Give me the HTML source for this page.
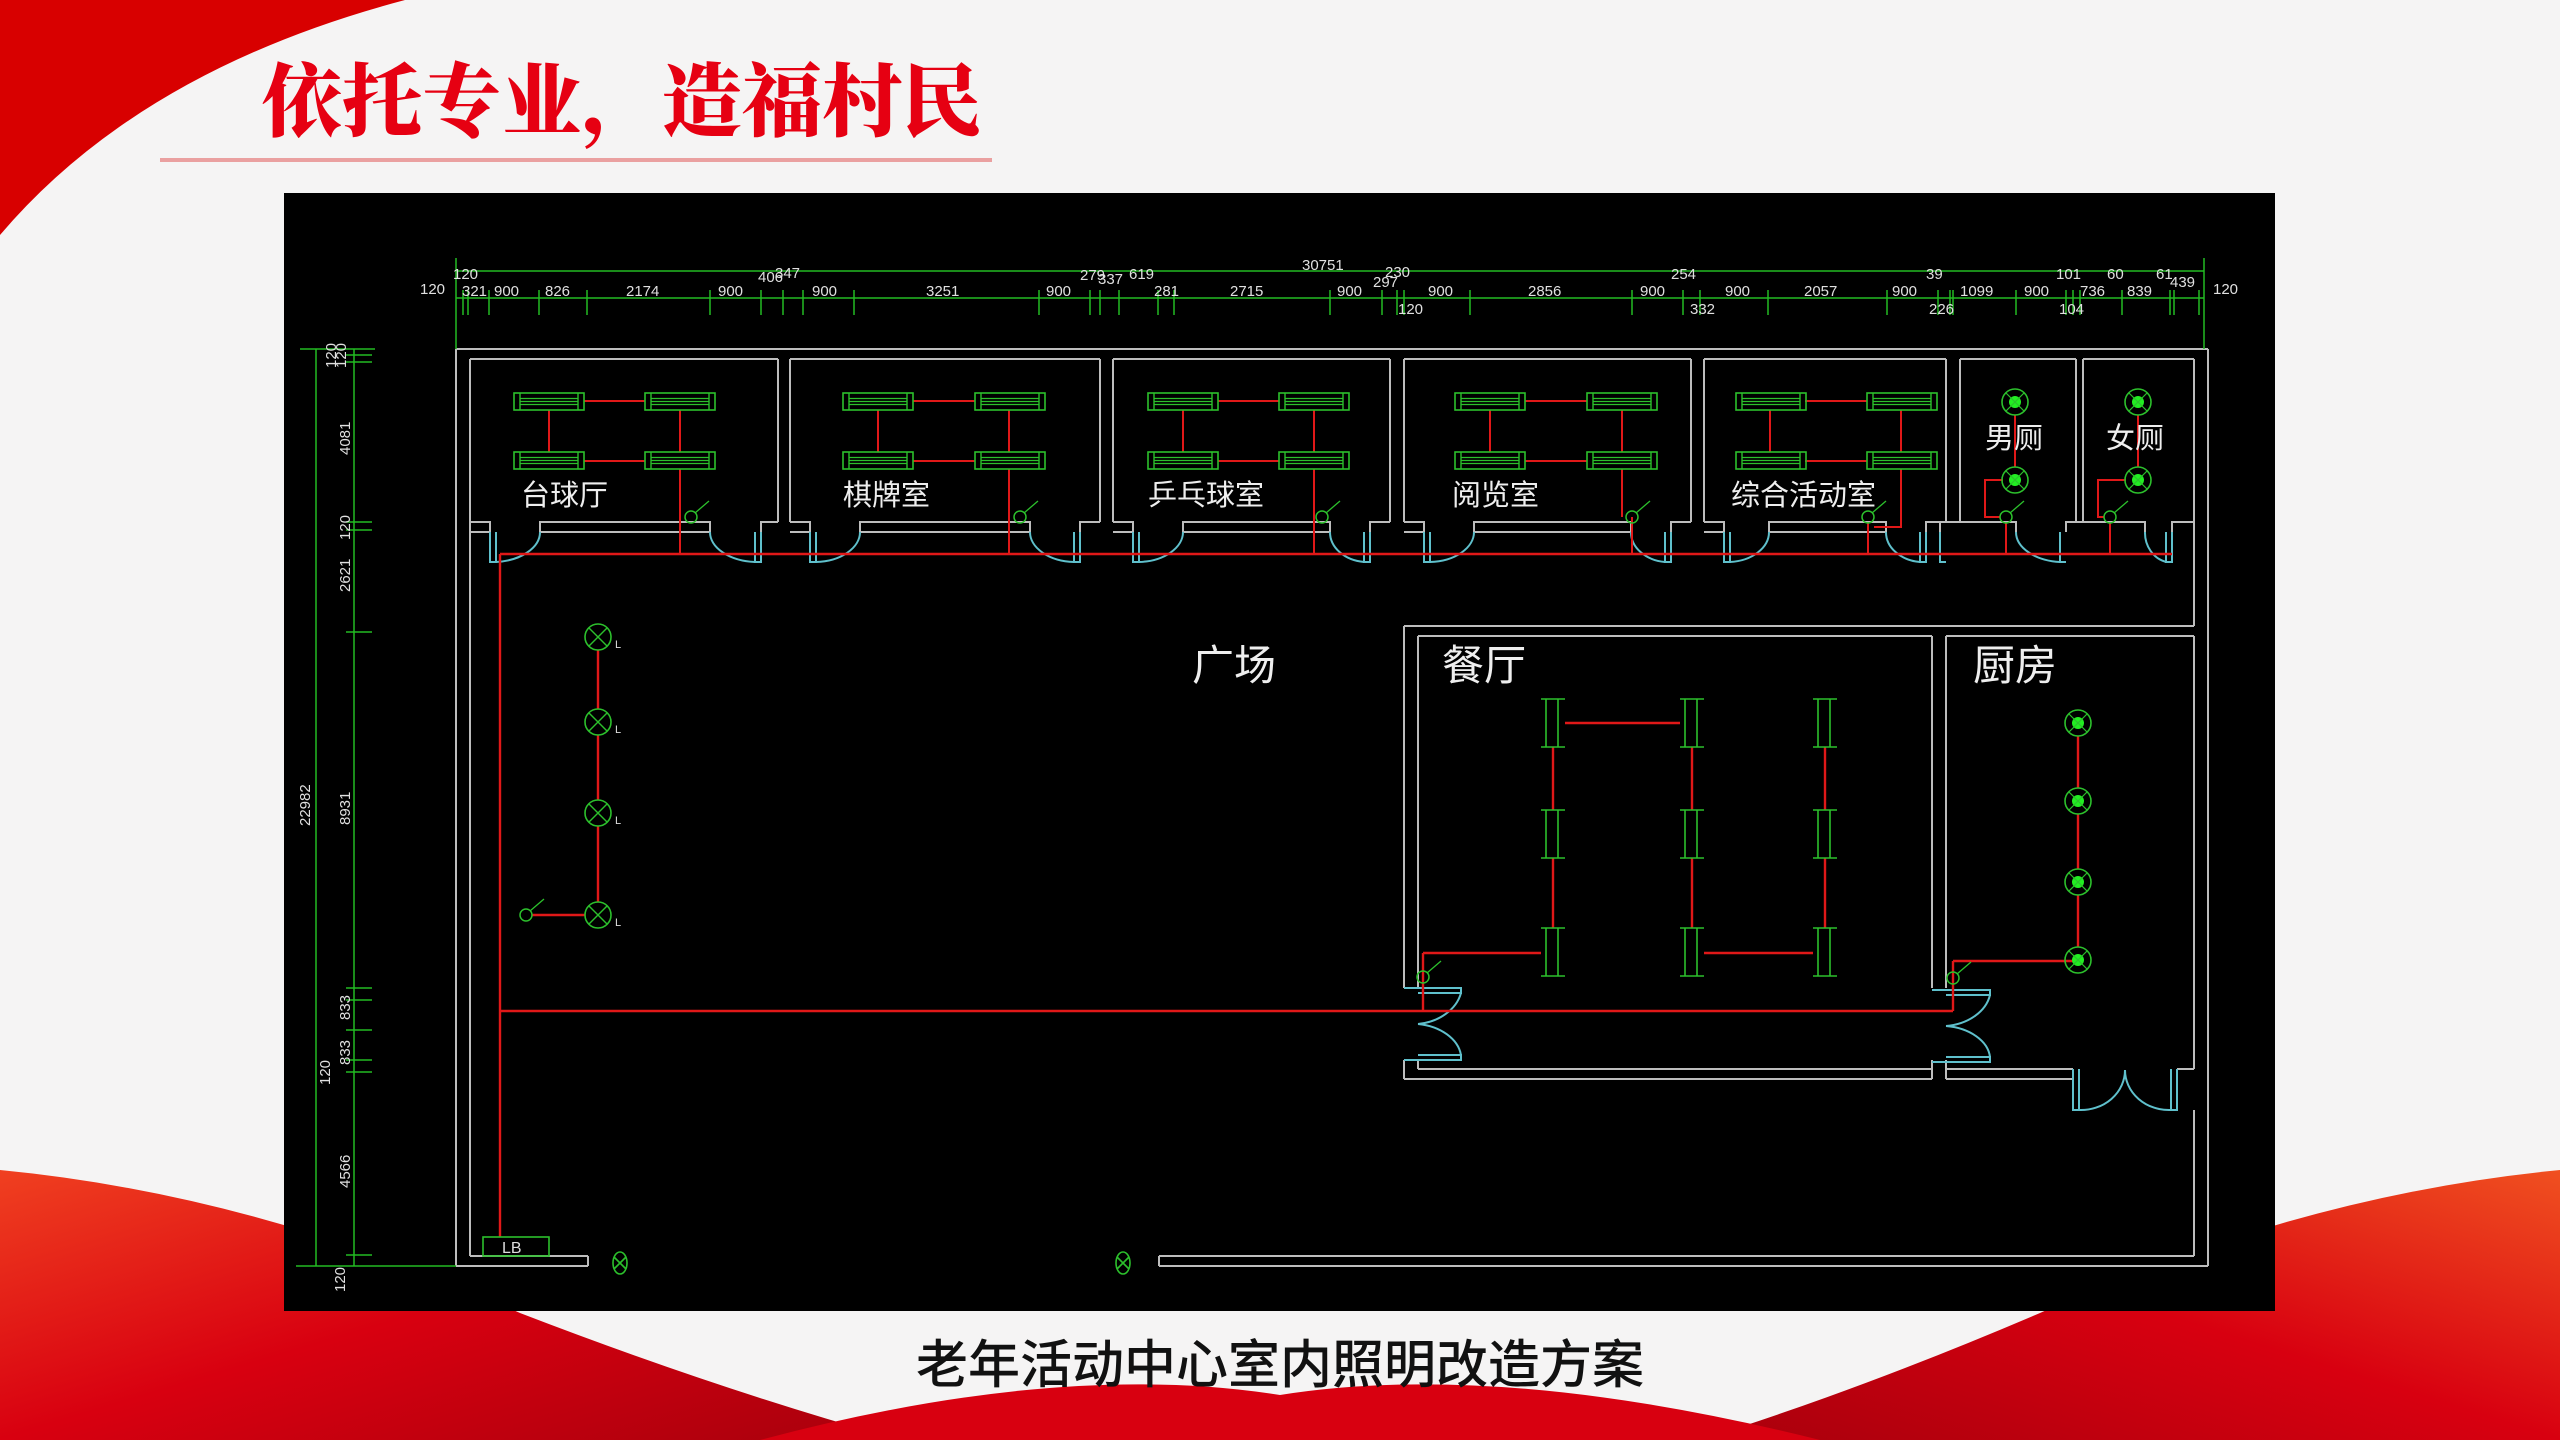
<!DOCTYPE html>
<html><head><meta charset="utf-8"><style>
html,body{margin:0;padding:0;width:2560px;height:1440px;overflow:hidden;background:#f5f4f4}
svg{display:block}
</style></head><body>
<svg width="2560" height="1440" viewBox="0 0 2560 1440" xmlns="http://www.w3.org/2000/svg">
<defs>
<linearGradient id="rl" x1="0" y1="0" x2="1" y2="1"><stop offset="0" stop-color="#f04020"/><stop offset="0.5" stop-color="#d80010"/><stop offset="1" stop-color="#a8000c"/></linearGradient>
<linearGradient id="rr" x1="1" y1="0" x2="0" y2="1"><stop offset="0" stop-color="#f05020"/><stop offset="0.5" stop-color="#d80010"/><stop offset="1" stop-color="#a8000c"/></linearGradient>
<g id="fx"><rect x="0" y="0" width="70" height="17" fill="none" stroke="#2cc02c" stroke-width="1.6"/><line x1="6" y1="0" x2="6" y2="17" stroke="#2cc02c" stroke-width="1.4"/><line x1="64" y1="0" x2="64" y2="17" stroke="#2cc02c" stroke-width="1.4"/><line x1="6" y1="5.5" x2="64" y2="5.5" stroke="#2cc02c" stroke-width="1.2"/><line x1="6" y1="8.5" x2="64" y2="8.5" stroke="#2cc02c" stroke-width="1.2"/><line x1="6" y1="11.5" x2="64" y2="11.5" stroke="#2cc02c" stroke-width="1.2"/></g>
<g id="vf"><line x1="-7" y1="0" x2="-7" y2="48" stroke="#2cc02c" stroke-width="1.6"/><line x1="5" y1="0" x2="5" y2="48" stroke="#2cc02c" stroke-width="1.6"/><line x1="-12" y1="0" x2="12" y2="0" stroke="#2cc02c" stroke-width="1.6"/><line x1="-12" y1="48" x2="12" y2="48" stroke="#2cc02c" stroke-width="1.6"/></g>
<g id="gl"><circle r="13" fill="none" stroke="#2cc02c" stroke-width="1.6"/><circle r="6" fill="#22ee22"/><line x1="-9" y1="-9" x2="9" y2="9" stroke="#2cc02c" stroke-width="1.2"/><line x1="-9" y1="9" x2="9" y2="-9" stroke="#2cc02c" stroke-width="1.2"/></g>
<g id="xl"><circle r="13" fill="none" stroke="#2cc02c" stroke-width="1.6"/><line x1="-9" y1="-9" x2="9" y2="9" stroke="#2cc02c" stroke-width="1.4"/><line x1="-9" y1="9" x2="9" y2="-9" stroke="#2cc02c" stroke-width="1.4"/></g>
<g id="sw"><circle r="6" fill="none" stroke="#2cc02c" stroke-width="1.5"/><line x1="4" y1="-4" x2="18" y2="-16" stroke="#2cc02c" stroke-width="1.3"/></g>
</defs>

<path d="M0,0 L405,0 Q140,70 0,235 Z" fill="#d80000"/>
<path d="M0,1170 Q260,1195 520,1313 Q720,1390 900,1440 L0,1440 Z" fill="url(#rl)"/>
<path d="M2560,1170 Q2300,1195 2040,1313 Q1860,1390 1700,1440 L2560,1440 Z" fill="url(#rr)"/>
<path d="M760,1440 Q1060,1360 1280,1395 Q1500,1360 1820,1440 Z" fill="#d80010"/>

<text x="262" y="130" font-family="Noto Serif CJK SC, serif" font-weight="900" font-size="80" fill="#e60012">依托专业，造福村民</text>
<rect x="160" y="158" width="832" height="4" fill="#eaa0a0"/>

<rect x="284" y="193" width="1991" height="1118" fill="#000"/>

<g fill="none" stroke="#bdbdbd" stroke-width="2">
<line x1="456" y1="349" x2="2208" y2="349"/>
<line x1="456" y1="349" x2="456" y2="1266"/>
<line x1="2208" y1="349" x2="2208" y2="1266"/>
<line x1="470" y1="359" x2="470" y2="1256"/>
<line x1="456" y1="1266" x2="588" y2="1266"/>
<line x1="470" y1="1256" x2="588" y2="1256"/>
<line x1="588" y1="1256" x2="588" y2="1266"/>
<line x1="1159" y1="1256" x2="2194" y2="1256"/>
<line x1="1159" y1="1266" x2="2208" y2="1266"/>
<line x1="1159" y1="1256" x2="1159" y2="1266"/>
<line x1="2194" y1="1110" x2="2194" y2="1256"/>
<line x1="470" y1="359" x2="778" y2="359"/><line x1="790" y1="359" x2="1100" y2="359"/>
<line x1="1113" y1="359" x2="1390" y2="359"/><line x1="1404" y1="359" x2="1691" y2="359"/>
<line x1="1704" y1="359" x2="1946" y2="359"/><line x1="1960" y1="359" x2="2076" y2="359"/>
<line x1="2083" y1="359" x2="2194" y2="359"/>
<line x1="778" y1="359" x2="778" y2="522"/><line x1="790" y1="359" x2="790" y2="522"/>
<line x1="1100" y1="359" x2="1100" y2="522"/><line x1="1113" y1="359" x2="1113" y2="522"/>
<line x1="1390" y1="359" x2="1390" y2="522"/><line x1="1404" y1="359" x2="1404" y2="522"/>
<line x1="1691" y1="359" x2="1691" y2="522"/><line x1="1704" y1="359" x2="1704" y2="522"/>
<line x1="1946" y1="359" x2="1946" y2="522"/><line x1="1960" y1="359" x2="1960" y2="522"/>
<line x1="2076" y1="359" x2="2076" y2="522"/><line x1="2083" y1="359" x2="2083" y2="522"/>
<line x1="2194" y1="359" x2="2194" y2="626"/>
<line x1="1404" y1="626" x2="2194" y2="626"/>
<line x1="1404" y1="626" x2="1404" y2="988"/><line x1="1418" y1="636" x2="1418" y2="988"/>
<line x1="1418" y1="636" x2="1932" y2="636"/><line x1="1946" y1="636" x2="2194" y2="636"/>
<line x1="1932" y1="636" x2="1932" y2="988"/><line x1="1946" y1="636" x2="1946" y2="988"/>
<line x1="1404" y1="1060" x2="1404" y2="1079"/><line x1="1418" y1="1060" x2="1418" y2="1069"/>
<line x1="1404" y1="1079" x2="1932" y2="1079"/><line x1="1418" y1="1069" x2="1932" y2="1069"/>
<line x1="1932" y1="1060" x2="1932" y2="1079"/><line x1="1946" y1="1060" x2="1946" y2="1079"/>
<line x1="1946" y1="1069" x2="2073" y2="1069"/><line x1="1946" y1="1079" x2="2073" y2="1079"/>
<line x1="2177" y1="1069" x2="2194" y2="1069"/><line x1="2194" y1="636" x2="2194" y2="1069"/>
</g>

<g fill="none" stroke-width="2">
<g stroke="#bdbdbd">
<path d="M470,522 H490 V532 H470"/><path d="M540,522 H710 V532 H540 Z"/><path d="M761,532 V522 H778"/>
<path d="M790,522 H810 V532 H790"/><path d="M860,522 H1030 V532 H860 Z"/><path d="M1080,532 V522 H1100"/>
<path d="M1113,522 H1133 V532 H1113"/><path d="M1183,522 H1330 V532 H1183 Z"/><path d="M1370,532 V522 H1390"/>
<path d="M1404,522 H1424 V532 H1404"/><path d="M1474,522 H1631 V532 H1474 Z"/><path d="M1671,532 V522 H1691"/>
<path d="M1704,522 H1724 V532 H1704"/><path d="M1769,522 H1886 V532 H1769 Z"/><path d="M1926,532 V522 H1946"/>
<path d="M1940,532 V522 H2016 V532"/><path d="M2066,532 V522 H2145 V532"/><path d="M2172,532 V522 H2194"/>
</g>
<g stroke="#5fc0cc">
<path d="M490,532 V562 H496 V532"/><path d="M540,532 A48 30 0 0 1 496,562"/>
<path d="M710,532 A48 30 0 0 0 755,562"/><path d="M755,532 V562 H761 V532"/>
<path d="M810,532 V562 H816 V532"/><path d="M860,532 A46 30 0 0 1 816,562"/>
<path d="M1030,532 A46 30 0 0 0 1074,562"/><path d="M1074,532 V562 H1080 V532"/>
<path d="M1133,532 V562 H1139 V532"/><path d="M1183,532 A46 30 0 0 1 1139,562"/>
<path d="M1330,532 A38 30 0 0 0 1364,562"/><path d="M1364,532 V562 H1370 V532"/>
<path d="M1424,532 V562 H1430 V532"/><path d="M1474,532 A46 30 0 0 1 1430,562"/>
<path d="M1631,532 A38 30 0 0 0 1665,562"/><path d="M1665,532 V562 H1671 V532"/>
<path d="M1724,532 V562 H1730 V532"/><path d="M1769,532 A42 30 0 0 1 1730,562"/>
<path d="M1886,532 A38 30 0 0 0 1920,562"/><path d="M1920,532 V562 H1926 V532"/>
<path d="M1940,532 V562 H1946"/><path d="M2016,532 A48 30 0 0 0 2060,562"/><path d="M2060,532 V562 H2066"/>
<path d="M2145,532 A28 30 0 0 0 2166,562"/><path d="M2166,532 V562 H2172 V532"/>
<path d="M1404,988 H1461 V993 H1418"/><path d="M1461,993 A50 40 0 0 1 1418,1024"/>
<path d="M1404,1060 H1461 V1055 H1418"/><path d="M1461,1055 A50 36 0 0 0 1418,1024"/>
<path d="M1932,990 H1990 V995 H1946"/><path d="M1990,995 A50 38 0 0 1 1946,1026"/>
<path d="M1932,1062 H1990 V1057 H1946"/><path d="M1990,1057 A50 34 0 0 0 1946,1026"/>
<path d="M2073,1069 V1110 H2079 V1069"/><path d="M2079,1110 A44 40 0 0 0 2125,1070"/>
<path d="M2177,1069 V1110 H2171 V1069"/><path d="M2171,1110 A44 40 0 0 1 2125,1070"/>
</g>
</g>

<g fill="none" stroke="#e01818" stroke-width="2.4">
<line x1="500" y1="554" x2="2172" y2="554"/>
<line x1="500" y1="554" x2="500" y2="1237"/>
<line x1="500" y1="1011" x2="1953" y2="1011"/>
<line x1="1953" y1="1011" x2="1953" y2="961"/><line x1="1953" y1="961" x2="2080" y2="961"/>
<line x1="1423" y1="1011" x2="1423" y2="953"/><line x1="1423" y1="953" x2="1541" y2="953"/>
<line x1="1565" y1="723" x2="1680" y2="723"/>
<line x1="1704" y1="953" x2="1813" y2="953"/>
<line x1="1553" y1="747" x2="1553" y2="810"/><line x1="1553" y1="858" x2="1553" y2="928"/>
<line x1="1692" y1="747" x2="1692" y2="810"/><line x1="1692" y1="858" x2="1692" y2="928"/>
<line x1="1825" y1="747" x2="1825" y2="810"/><line x1="1825" y1="858" x2="1825" y2="928"/>
<line x1="2078" y1="736" x2="2078" y2="788"/><line x1="2078" y1="814" x2="2078" y2="869"/><line x1="2078" y1="895" x2="2078" y2="947"/>
<line x1="598" y1="650" x2="598" y2="709"/><line x1="598" y1="735" x2="598" y2="800"/><line x1="598" y1="826" x2="598" y2="902"/>
<line x1="532" y1="915" x2="585" y2="915"/>
<g stroke-width="2">
<line x1="584" y1="401" x2="645" y2="401"/><line x1="584" y1="461" x2="645" y2="461"/><line x1="549" y1="410" x2="549" y2="452"/><line x1="680" y1="410" x2="680" y2="452"/><line x1="680" y1="469" x2="680" y2="554"/>
<line x1="913" y1="401" x2="975" y2="401"/><line x1="913" y1="461" x2="975" y2="461"/><line x1="878" y1="410" x2="878" y2="452"/><line x1="1009" y1="410" x2="1009" y2="452"/><line x1="1009" y1="469" x2="1009" y2="554"/>
<line x1="1218" y1="401" x2="1279" y2="401"/><line x1="1218" y1="461" x2="1279" y2="461"/><line x1="1183" y1="410" x2="1183" y2="452"/><line x1="1314" y1="410" x2="1314" y2="452"/><line x1="1314" y1="469" x2="1314" y2="554"/>
<line x1="1525" y1="401" x2="1587" y2="401"/><line x1="1525" y1="461" x2="1587" y2="461"/><line x1="1490" y1="410" x2="1490" y2="452"/><line x1="1622" y1="410" x2="1622" y2="452"/><line x1="1622" y1="469" x2="1622" y2="517"/><line x1="1632" y1="517" x2="1632" y2="554"/>
<line x1="1805" y1="401" x2="1867" y2="401"/><line x1="1805" y1="461" x2="1867" y2="461"/><line x1="1770" y1="410" x2="1770" y2="452"/><line x1="1901" y1="410" x2="1901" y2="452"/><path d="M1901,469 V527 H1874"/><line x1="1868" y1="523" x2="1868" y2="554"/>
<line x1="2015" y1="415" x2="2015" y2="467"/><path d="M2003,480 H1985 V517 H2000"/><line x1="2006" y1="523" x2="2006" y2="554"/>
<line x1="2138" y1="415" x2="2138" y2="467"/><path d="M2126,480 H2098 V517 H2104"/><line x1="2110" y1="523" x2="2110" y2="554"/>
</g>
</g>

<use href="#fx" x="514" y="393"/><use href="#fx" x="645" y="393"/><use href="#fx" x="514" y="452"/><use href="#fx" x="645" y="452"/>
<use href="#fx" x="843" y="393"/><use href="#fx" x="975" y="393"/><use href="#fx" x="843" y="452"/><use href="#fx" x="975" y="452"/>
<use href="#fx" x="1148" y="393"/><use href="#fx" x="1279" y="393"/><use href="#fx" x="1148" y="452"/><use href="#fx" x="1279" y="452"/>
<use href="#fx" x="1455" y="393"/><use href="#fx" x="1587" y="393"/><use href="#fx" x="1455" y="452"/><use href="#fx" x="1587" y="452"/>
<use href="#fx" x="1736" y="393"/><use href="#fx" x="1867" y="393"/><use href="#fx" x="1736" y="452"/><use href="#fx" x="1867" y="452"/>
<use href="#gl" x="2015" y="402"/><use href="#gl" x="2015" y="480"/><use href="#gl" x="2138" y="402"/><use href="#gl" x="2138" y="480"/>
<use href="#gl" x="2078" y="723"/><use href="#gl" x="2078" y="801"/><use href="#gl" x="2078" y="882"/><use href="#gl" x="2078" y="960"/>
<use href="#vf" x="1553" y="699"/><use href="#vf" x="1553" y="810"/><use href="#vf" x="1553" y="928"/>
<use href="#vf" x="1692" y="699"/><use href="#vf" x="1692" y="810"/><use href="#vf" x="1692" y="928"/>
<use href="#vf" x="1825" y="699"/><use href="#vf" x="1825" y="810"/><use href="#vf" x="1825" y="928"/>
<use href="#xl" x="598" y="637"/><use href="#xl" x="598" y="722"/><use href="#xl" x="598" y="813"/><use href="#xl" x="598" y="915"/>
<use href="#sw" x="691" y="517"/><use href="#sw" x="1020" y="517"/><use href="#sw" x="1322" y="517"/><use href="#sw" x="1632" y="517"/><use href="#sw" x="1868" y="517"/><use href="#sw" x="2006" y="517"/><use href="#sw" x="2110" y="517"/>
<use href="#sw" x="526" y="915"/><use href="#sw" x="1423" y="977"/><use href="#sw" x="1953" y="978"/>
<g fill="none" stroke="#2cc02c" stroke-width="1.6">
<ellipse cx="620" cy="1263" rx="7" ry="11"/><path d="M614,1257 L626,1269 M614,1269 L626,1257"/>
<ellipse cx="1123" cy="1263" rx="7" ry="11"/><path d="M1117,1257 L1129,1269 M1117,1269 L1129,1257"/>
<rect x="483" y="1237" width="66" height="19"/>
</g>
<text x="502" y="1253" font-family="Liberation Sans Narrow, Liberation Sans, sans-serif" font-size="16" fill="#ddd">LB</text>
<g font-family="Liberation Sans, sans-serif" font-size="11" fill="#ddd"><text x="615" y="648">L</text><text x="615" y="733">L</text><text x="615" y="824">L</text><text x="615" y="926">L</text></g>

<g font-family="Liberation Sans, Noto Sans CJK SC, sans-serif" fill="#eee">
<g font-size="29"><text x="521" y="505">台球厅</text><text x="843" y="505">棋牌室</text><text x="1148" y="505">乒乓球室</text><text x="1452" y="505">阅览室</text><text x="1731" y="505">综合活动室</text>
<text x="1985" y="448">男厕</text><text x="2106" y="448">女厕</text></g>
<g font-size="42"><text x="1192" y="680">广场</text><text x="1442" y="680">餐厅</text><text x="1973" y="680">厨房</text></g>
</g>

<g stroke="#22bb22" stroke-width="1.5" fill="none">
<line x1="456" y1="258" x2="456" y2="349"/><line x1="2204" y1="258" x2="2204" y2="349"/>
<line x1="456" y1="271" x2="2204" y2="271"/><line x1="456" y1="298" x2="2204" y2="298"/>
<line x1="300" y1="349" x2="375" y2="349"/>
<line x1="316" y1="349" x2="316" y2="1266"/><line x1="354" y1="349" x2="354" y2="1266"/>
<line x1="296" y1="1266" x2="456" y2="1266"/>
<path d="M463,290 V315 M468,290 V315 M489,290 V315 M539,290 V315 M587,290 V315 M710,290 V315 M761,290 V315 M783,290 V315 M803,290 V315 M854,290 V315 M1039,290 V315 M1090,290 V315 M1100,290 V315 M1119,290 V315 M1158,290 V315 M1174,290 V315 M1330,290 V315 M1382,290 V315 M1397,290 V315 M1404,290 V315 M1470,290 V315 M1632,290 V315 M1683,290 V315 M1700,290 V315 M1768,290 V315 M1887,290 V315 M1938,290 V315 M1950,290 V315 M1953,290 V315 M2016,290 V315 M2066,290 V315 M2073,290 V315 M2080,290 V315 M2122,290 V315 M2170,290 V315 M2174,290 V315 M2199,290 V315"/>
<path d="M346,355 H372 M346,362 H372 M346,522 H372 M346,530 H372 M346,632 H372 M346,988 H372 M346,1000 H372 M346,1030 H372 M346,1060 H372 M346,1072 H372 M346,1255 H372"/>
</g>
<g font-family="Liberation Sans Narrow, Liberation Sans, sans-serif" font-size="15" fill="#e0e0e0">
<text x="420" y="294">120</text><text x="2213" y="294">120</text>
<text x="462" y="296">321</text><text x="494" y="296">900</text><text x="545" y="296">826</text><text x="626" y="296">2174</text><text x="718" y="296">900</text><text x="812" y="296">900</text><text x="926" y="296">3251</text><text x="1046" y="296">900</text><text x="1154" y="296">281</text><text x="1230" y="296">2715</text><text x="1337" y="296">900</text><text x="1428" y="296">900</text><text x="1528" y="296">2856</text><text x="1640" y="296">900</text><text x="1725" y="296">900</text><text x="1804" y="296">2057</text><text x="1892" y="296">900</text><text x="1960" y="296">1099</text><text x="2024" y="296">900</text><text x="2080" y="296">736</text><text x="2127" y="296">839</text>
<text x="453" y="279">120</text><text x="758" y="282">406</text><text x="775" y="278">347</text><text x="1080" y="280">279</text><text x="1098" y="284">337</text><text x="1129" y="279">619</text><text x="1302" y="270">30751</text><text x="1385" y="277">230</text><text x="1373" y="287">297</text><text x="1671" y="279">254</text><text x="1926" y="279">39</text><text x="2056" y="279">101</text><text x="2107" y="279">60</text><text x="2156" y="279">61</text><text x="2170" y="287">439</text>
<text x="1398" y="314">120</text><text x="1690" y="314">332</text><text x="1929" y="314">226</text><text x="2059" y="314">104</text>
</g>
<g font-family="Liberation Sans Narrow, Liberation Sans, sans-serif" font-size="15" fill="#e0e0e0">
<text transform="translate(336,368) rotate(-90)">120</text>
<text transform="translate(346,368) rotate(-90)">120</text>
<text transform="translate(350,455) rotate(-90)">4081</text>
<text transform="translate(350,540) rotate(-90)">120</text>
<text transform="translate(350,592) rotate(-90)">2621</text>
<text transform="translate(350,825) rotate(-90)">8931</text>
<text transform="translate(310,826) rotate(-90)">22982</text>
<text transform="translate(350,1020) rotate(-90)">833</text>
<text transform="translate(350,1065) rotate(-90)">833</text>
<text transform="translate(330,1085) rotate(-90)">120</text>
<text transform="translate(350,1188) rotate(-90)">4566</text>
<text transform="translate(345,1292) rotate(-90)">120</text>
</g>

<text x="1280" y="1383" text-anchor="middle" font-family="Liberation Sans, Noto Sans CJK SC, sans-serif" font-size="52" font-weight="500" fill="#111">老年活动中心室内照明改造方案</text>
</svg>
</body></html>
